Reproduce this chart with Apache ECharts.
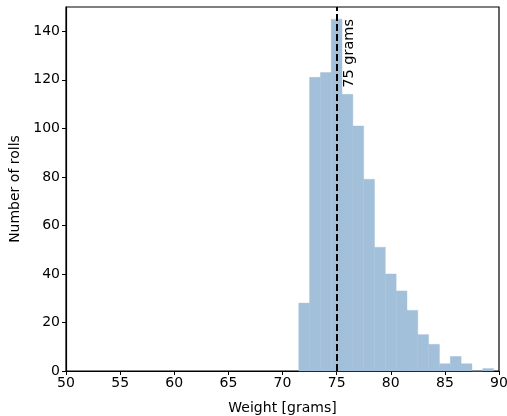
<!DOCTYPE html>
<html><head><meta charset="utf-8">
<script src="https://cdn.jsdelivr.net/npm/echarts@6/dist/echarts.min.js"></script>
<style>html,body{margin:0;padding:0;background:#fff}#c{width:507px;height:416px}</style>
</head><body><div id="c"></div>
<script>
const binCenters = [72,73,74,75,76,77,78,79,80,81,82,83,84,85,86,87,88,89];
const counts     = [28,121,123,145,114,101,79,51,40,33,25,15,11,3,6,3,0,1];
const binWidth = 1;
const refLine = 75;
const refLabel = '75 grams';
const xTicks = [50,90,5];
const yRange = [0,150];
const yTickValues = [0,20,40,60,80,100,120,140];

const font = 'DejaVu Sans';
const chart = echarts.init(document.getElementById('c'), null, {renderer:'canvas'});
const data = binCenters.map((c,i)=>[c,counts[i]]);
chart.setOption({
  animation:false,
  grid:{left:66,right:8,top:7,bottom:45,outerBoundsMode:'none',containLabel:false,
    show:true,borderColor:'#000',borderWidth:1.2,backgroundColor:'transparent'},
  xAxis:{type:'value',min:xTicks[0],max:xTicks[1],interval:xTicks[2],
    name:'Weight [grams]',nameLocation:'middle',nameGap:30,
    nameTextStyle:{fontFamily:font,fontSize:14,color:'#000'},
    axisLine:{show:true,onZero:false,lineStyle:{color:'#000',width:1.2}},
    axisTick:{show:true,length:4,lineStyle:{color:'#000',width:1}},
    axisLabel:{fontFamily:font,fontSize:14,color:'#000',margin:5,hideOverlap:false},
    splitLine:{show:false}},
  yAxis:{type:'value',min:yRange[0],max:yRange[1],
    name:'Number of rolls',nameLocation:'middle',nameGap:44,nameRotate:90,
    nameTextStyle:{fontFamily:font,fontSize:14,color:'#000'},
    axisLine:{show:true,lineStyle:{color:'#000',width:1.2}},
    axisTick:{show:true,length:4,customValues:yTickValues,lineStyle:{color:'#000',width:1}},
    axisLabel:{fontFamily:font,fontSize:14,color:'#000',margin:6,customValues:yTickValues},
    splitLine:{show:false}},
  series:[{
    type:'custom',
    data:data,
    renderItem:function(params,api){
      const c=api.value(0), v=api.value(1);
      const p0=api.coord([c-binWidth/2,0]);
      const p1=api.coord([c+binWidth/2,v]);
      return {type:'rect',shape:{x:p0[0],y:p1[1],width:p1[0]-p0[0],height:p0[1]-p1[1]},
        style:{fill:'#a2c0d9',stroke:'#a2c0d9',lineWidth:0.4}};
    },
    markLine:{symbol:'none',silent:true,label:{show:false},
      lineStyle:{color:'#000',width:2,type:[7,3]},
      data:[{xAxis:refLine}]},
    z:2
  }]
});
const pt = chart.convertToPixel({gridIndex:0},[refLine,0]);
chart.setOption({graphic:[{type:'text',x:pt[0]+13,y:19,rotation:Math.PI/2,
  style:{text:refLabel,fontFamily:font,fontSize:14.5,fill:'#000',align:'right',verticalAlign:'middle'}}]});
</script></body></html>
